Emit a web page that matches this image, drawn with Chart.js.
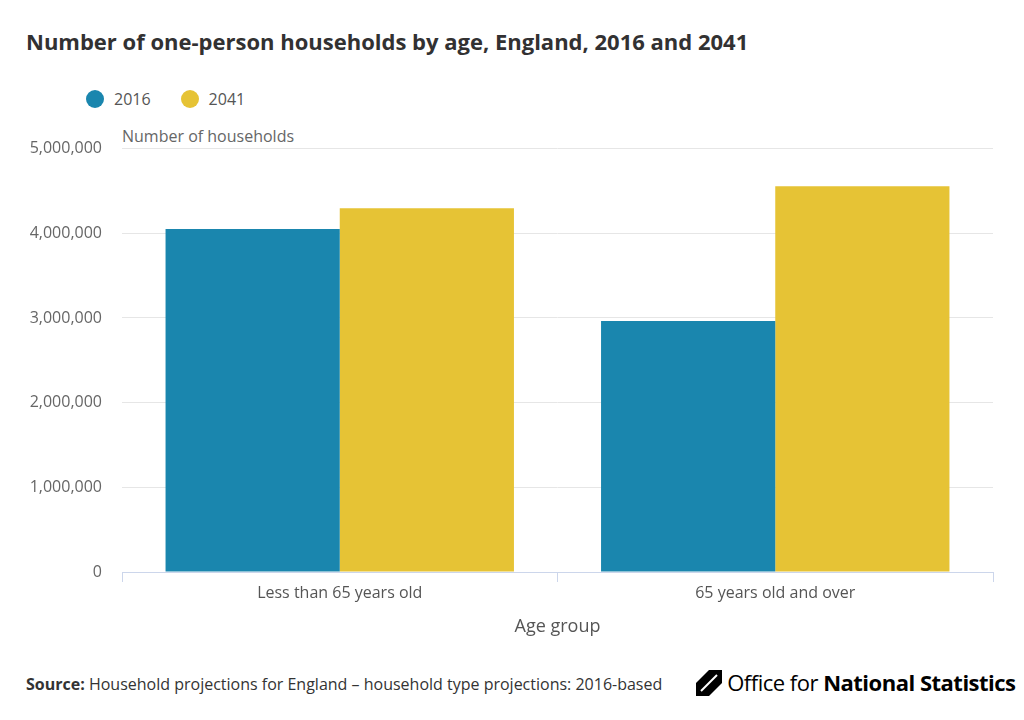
<!DOCTYPE html>
<html><head><meta charset="utf-8">
<script src="https://cdn.jsdelivr.net/npm/chart.js@4"></script>
<style>
body{margin:0;width:1024px;height:720px;background:#fff;font-family:"Open Sans",sans-serif;position:relative;overflow:hidden}
#t{position:absolute;left:26px;top:26px;font-size:22px;font-weight:bold;color:#323132}
#lg{position:absolute;left:86px;top:88px;font-size:16px;color:#555}
#lg span{display:inline-block;width:18px;height:18px;border-radius:50%;vertical-align:-3px;margin-right:10px}
#yt{position:absolute;left:122px;top:125px;font-size:16px;color:#666}
#wrap{position:absolute;left:0;top:119px;width:1024px;height:523px}
#src{position:absolute;left:26px;top:673px;font-size:16px;color:#333}
#ons{position:absolute;left:696px;top:667px;font-size:22px;color:#000;letter-spacing:-0.5px}
</style></head><body>
<div id="t">Number of one-person households by age, England, 2016 and 2041</div>
<div id="lg"><span style="background:#1a86ae"></span>2016<span style="background:#e6c335;margin-left:30px"></span>2041</div>
<div id="yt">Number of households</div>
<div id="wrap"><canvas id="c"></canvas></div>
<div id="src"><b>Source:</b> Household projections for England – household type projections: 2016-based</div>
<div id="ons"><svg width="26" height="26" viewBox="0 0 26 26" style="vertical-align:-5px"><path d="M0 13 L13 0 L26 0 L26 13 L13 26 L0 26Z" fill="#000"/><path d="M5 21 L21 5" stroke="#fff" stroke-width="2"/></svg> Office for <b>National Statistics</b></div>
<script>
const categories=["Less than 65 years old","65 years old and over"];
const series2016=[4050000,2965000];
const series2041=[4295000,4555000];
const yTicks=[0,1000000,2000000,3000000,4000000,5000000];
new Chart(document.getElementById('c'),{type:'bar',
data:{labels:categories,datasets:[
{label:'2016',data:series2016,backgroundColor:'#1a86ae'},
{label:'2041',data:series2041,backgroundColor:'#e6c335'}]},
options:{responsive:true,maintainAspectRatio:false,animation:false,
layout:{padding:{top:7,right:31,left:0,bottom:0}},
plugins:{legend:{display:false},tooltip:{enabled:false}},
datasets:{bar:{categoryPercentage:0.8,barPercentage:1}},
scales:{
y:{min:0,max:5000000,afterBuildTicks:s=>{s.ticks=yTicks.map(v=>({value:v}))},
afterFit:s=>{s.width=122},
border:{display:false},grid:{color:'#e6e6e6',drawTicks:false},
ticks:{padding:20,color:'#666',font:{family:'Open Sans',size:16},callback:v=>v.toLocaleString('en-US')}},
x:{afterFit:s=>{s.height=70},border:{color:'#ccd6eb'},
grid:{display:true,drawOnChartArea:false,color:'#ccd6eb',tickLength:10,offset:true},
ticks:{color:'#555',font:{family:'Open Sans',size:16},padding:2},
title:{display:true,text:'Age group',color:'#555',font:{family:'Open Sans',size:18},padding:{top:4}}}
}}});
</script></body></html>
